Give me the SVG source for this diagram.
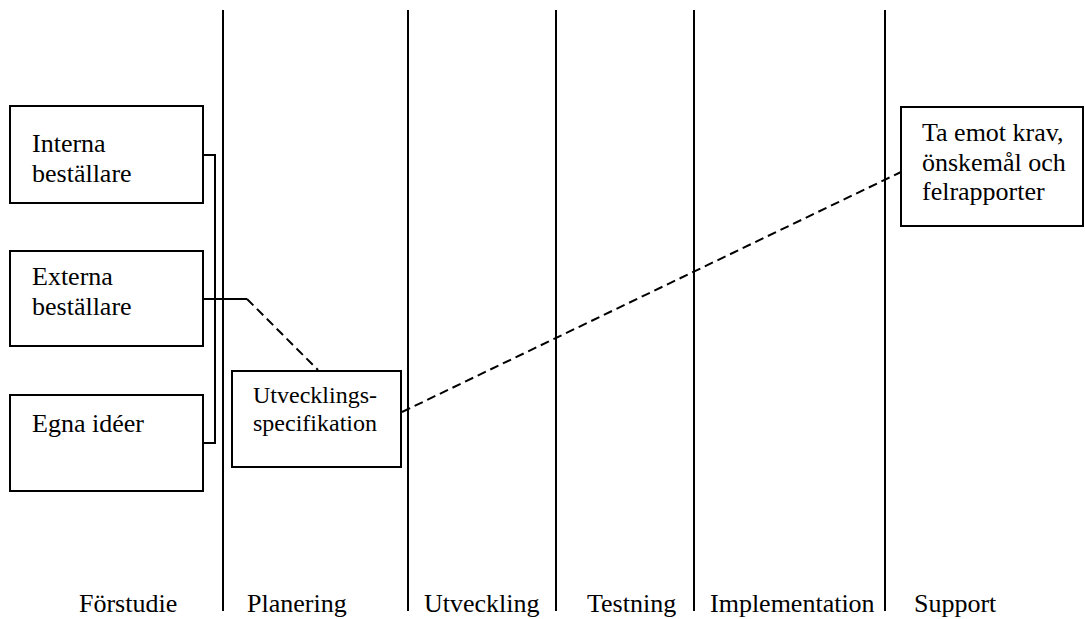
<svg xmlns="http://www.w3.org/2000/svg" width="1085" height="619" viewBox="0 0 1085 619">
<style>
.box{fill:#fff;stroke:#000;stroke-width:2}
.phase{stroke:#000;stroke-width:2}
.t{font-family:"Liberation Serif","Times New Roman",serif;font-size:26px;fill:#000}
.ts{font-family:"Liberation Serif","Times New Roman",serif;font-size:24px;fill:#000}
.solid{fill:none;stroke:#000;stroke-width:2}
.dash{fill:none;stroke:#000;stroke-width:2;stroke-dasharray:9 5}
</style>
<rect width="1085" height="619" fill="#fff"/>
<g id="phases">
<line class="phase" x1="223" y1="10" x2="223" y2="611"/>
<line class="phase" x1="408" y1="10" x2="408" y2="611"/>
<line class="phase" x1="556" y1="10" x2="556" y2="611"/>
<line class="phase" x1="694" y1="10" x2="694" y2="611"/>
<line class="phase" x1="885" y1="10" x2="885" y2="611"/>
<text class="t" x="79" y="612">Förstudie</text>
<text class="t" x="247" y="612">Planering</text>
<text class="t" x="424" y="612">Utveckling</text>
<text class="t" x="587" y="612">Testning</text>
<text class="t" x="710" y="612">Implementation</text>
<text class="t" x="914" y="612">Support</text>
</g>
<g id="connectors">
<polyline class="solid" points="203,155 215,155 215,443 203,443"/>
<polyline class="solid" points="203,299 247,299"/>
<line class="dash" x1="247" y1="299" x2="318" y2="370"/>
<line class="dash" x1="402" y1="412" x2="901" y2="172"/>
</g>
<g id="interna">
<rect class="box" x="10" y="106" width="193" height="97"/>
<text class="t" x="32" y="152">Interna</text>
<text class="t" x="32" y="182">beställare</text>
</g>
<g id="externa">
<rect class="box" x="10" y="251" width="193" height="95"/>
<text class="t" x="32" y="285">Externa</text>
<text class="t" x="32" y="315">beställare</text>
</g>
<g id="egna">
<rect class="box" x="10" y="395" width="193" height="96"/>
<text class="t" x="32" y="432">Egna idéer</text>
</g>
<g id="utv">
<rect class="box" x="232" y="371" width="169" height="96"/>
<text class="ts" x="253" y="403">Utvecklings-</text>
<text class="ts" x="253" y="431">specifikation</text>
</g>
<g id="taemot">
<rect class="box" x="901" y="107" width="182" height="119"/>
<text class="t" x="922" y="141">Ta emot krav,</text>
<text class="t" x="922" y="171">önskemål och</text>
<text class="t" x="922" y="200">felrapporter</text>
</g>
</svg>
